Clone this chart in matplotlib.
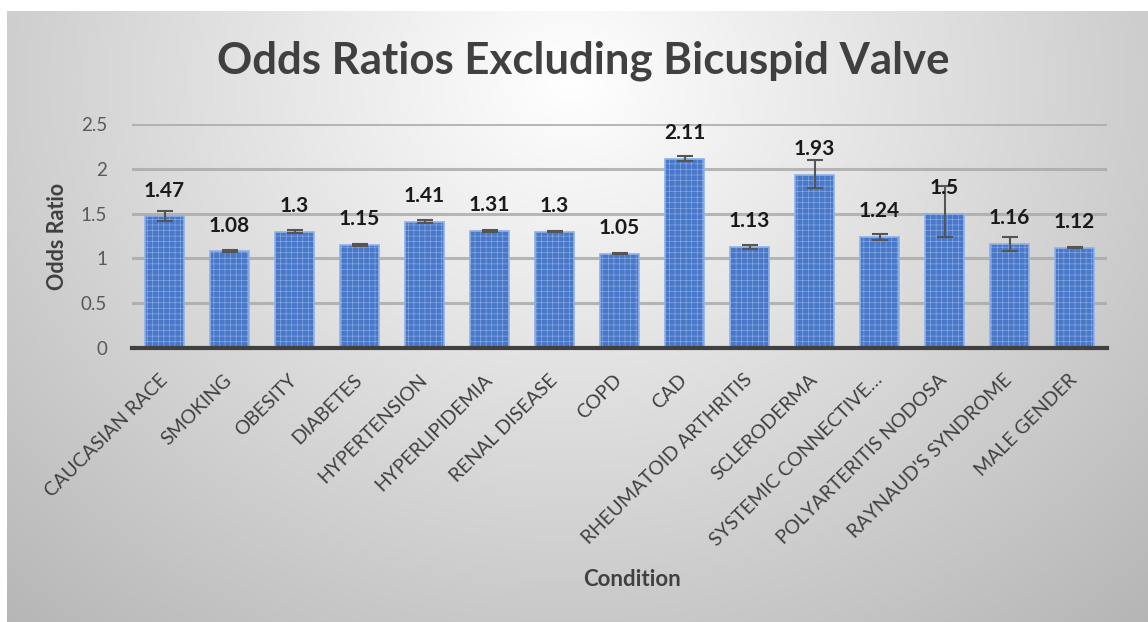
import numpy as np
import matplotlib
matplotlib.use("Agg")
import matplotlib.pyplot as plt

categories = ["CAUCASIAN RACE", "SMOKING", "OBESITY", "DIABETES", "HYPERTENSION",
              "HYPERLIPIDEMIA", "RENAL DISEASE", "COPD", "CAD", "RHEUMATOID ARTHRITIS",
              "SCLERODERMA", "SYSTEMIC CONNECTIVE…", "POLYARTERITIS NODOSA",
              "RAYNAUD'S SYNDROME", "MALE GENDER"]
odds = [1.47, 1.08, 1.3, 1.15, 1.41, 1.31, 1.3, 1.05, 2.11, 1.13, 1.93, 1.24, 1.5, 1.16, 1.12]
err_low = [0.05, 0.01, 0.02, 0.015, 0.02, 0.01, 0.01, 0.005, 0.025, 0.025, 0.14, 0.035, 0.26, 0.075, 0.005]
err_high = [0.06, 0.01, 0.02, 0.015, 0.02, 0.01, 0.01, 0.005, 0.03, 0.025, 0.17, 0.035, 0.31, 0.08, 0.005]
labels = ["1.47", "1.08", "1.3", "1.15", "1.41", "1.31", "1.3", "1.05", "2.11", "1.13",
          "1.93", "1.24", "1.5", "1.16", "1.12"]
yticks = [0, 0.5, 1, 1.5, 2, 2.5]
ytick_labels = ["0", "0.5", "1", "1.5", "2", "2.5"]

plt.rcParams['font.family'] = ['Lato', 'DejaVu Sans']
plt.rcParams['hatch.linewidth'] = 0.4

W, H = 1148, 622
fig = plt.figure(figsize=(W / 100, H / 100), dpi=100)

# background gradient
bg = fig.add_axes([0, 0, 1, 1], zorder=-10)
yy, xx = np.mgrid[0:H, 0:W]
d = np.sqrt(((xx - 570) / 740.0) ** 2 + ((yy - 80) / 640.0) ** 2)
v = 255 - 64 * np.clip(d, 0, 1.2)
img = np.stack([v, v, v], axis=-1) / 255.0
img[:11, :, :] = 1.0
img[:, :7, :] = 1.0
bg.imshow(img, extent=[0, W, H, 0], aspect='auto', interpolation='bilinear')
bg.set_xlim(0, W)
bg.set_ylim(H, 0)
bg.axis('off')

ax = fig.add_axes([132 / W, 1 - 348 / H, (1107 - 132) / W, (348 - 124) / H])
ax.patch.set_alpha(0)
x = np.arange(len(categories))
ax.bar(x, odds, width=0.6, color='#4a78c8', edgecolor='#8fb1e8', linewidth=1.2,
       hatch='+++', zorder=3)
ax.errorbar(x, odds, yerr=[err_low, err_high], fmt='none', ecolor='#555555',
            elinewidth=1.5, capsize=5.5, capthick=1.5, zorder=4)
for xi, val, lab in zip(x, odds, labels):
    ax.annotate(lab, (xi, val), xytext=(0, 18.5), textcoords='offset points',
                ha='center', va='center', fontsize=15, fontweight='bold',
                color='#1a1a1a', zorder=5)

ax.set_xlim(-0.5, len(categories) - 0.5)
ax.set_ylim(0, 2.5)
ax.set_yticks(yticks)
ax.set_yticklabels(ytick_labels, fontsize=13.5, color='#595959')
ax.set_xticks(x)
ax.set_xticklabels(categories, rotation=45, ha='right', va='center',
                   rotation_mode='anchor', fontsize=14, color='#404040')
ax.tick_params(axis='both', length=0)
ax.tick_params(axis='y', pad=18)
ax.tick_params(axis='x', pad=21)
ax.grid(axis='y', color='#a8a8a8', linewidth=2.2, alpha=0.8, zorder=0)
for s in ['top', 'right', 'left']:
    ax.spines[s].set_visible(False)
ax.spines['bottom'].set_color('#404040')
ax.spines['bottom'].set_linewidth(3)
ax.spines['bottom'].set_zorder(6)

fig.text(58 / W, 1 - 236 / H, "Odds Ratio", ha='center', va='center', rotation=90,
         fontsize=15.5, fontweight='bold', color='#404040')
fig.text(632 / W, 1 - 580 / H, "Condition", ha='center', va='center',
         fontsize=16, fontweight='bold', color='#404040')
fig.text(583 / W, 1 - 61 / H, "Odds Ratios Excluding Bicuspid Valve", ha='center',
         va='center', fontsize=31.5, fontweight='bold', color='#404040')

fig.savefig("out.png", dpi=100)
